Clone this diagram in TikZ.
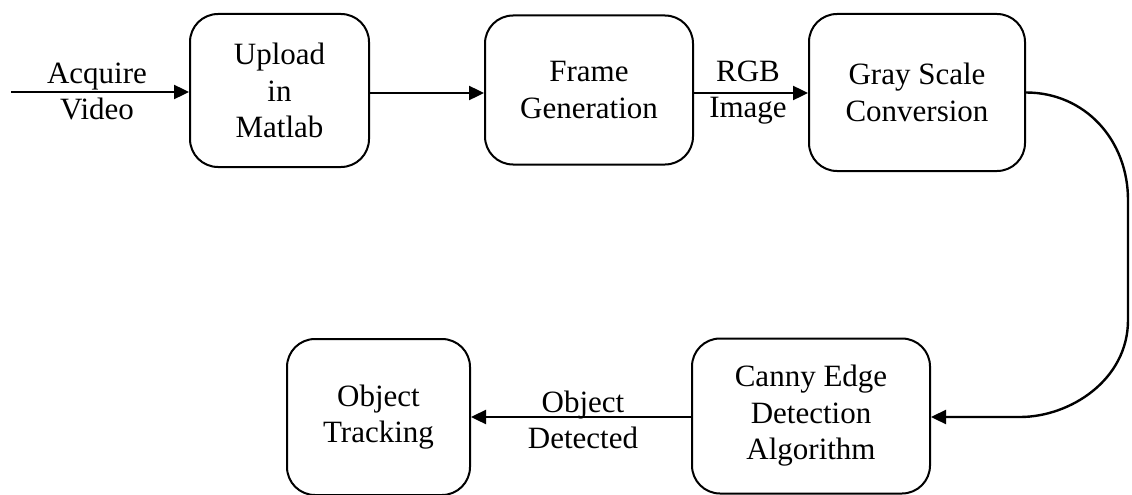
\documentclass[tikz,border=0pt]{standalone}
\usepackage{fontspec}
\setmainfont{Liberation Serif}
\usetikzlibrary{arrows.meta,calc}
\begin{document}
\begin{tikzpicture}[x=1pt,y=-1pt,
  box/.style={draw,line width=2pt,rounded corners=28pt,align=center,inner sep=0pt,
    font=\fontsize{31}{36.5}\selectfont},
  lbl/.style={align=center,inner sep=0pt,font=\fontsize{31}{36}\selectfont},
  arr/.style={line width=2.4pt,-{Triangle[length=15pt,width=14pt]}}]
\useasboundingbox (0,0) rectangle (1132,495);
\node[box,minimum width=179pt,minimum height=153pt] (upload) at (279.5,90.5) {Upload\\in\\Matlab};
\node[box,minimum width=208pt,minimum height=149pt] (frame) at (589,90) {Frame\\Generation};
\node[box,minimum width=216pt,minimum height=157pt] (gray) at (917,92.5) {Gray Scale\\Conversion};
\node[box,minimum width=238pt,minimum height=155pt] (canny) at (811,416) {Canny Edge\\Detection\\Algorithm};
\node[box,minimum width=183pt,minimum height=156pt] (track) at (378.5,417) {Object\\Tracking};
\coordinate (in) at (11,92);
\draw[arr] (in) -- (in -| upload.west);
\node[lbl] (acq) at (97,91) {Acquire\\Video};
\draw[arr] (upload.east |- 0,93) -- (frame.west |- 0,93);
\draw[arr] (frame.east |- 0,93) -- (gray.west |- 0,93);
\node[lbl] (rgb) at (748,93) {RGB\\Image};
\coordinate (c1) at (1128,200);
\coordinate (c2) at (1128,320);
\coordinate (c3) at (1020,417);
\draw[arr] (gray.east) .. controls (1085,92.5) and (1128,140) .. (c1) -- (c2)
  .. controls (1128,380) and (1070,417) .. (c3) -- (c3 -| canny.east);
\draw[arr] (canny.west |- 0,417) -- (track.east |- 0,417);
\node[lbl] (det) at (583,420) {Object\\Detected};
\end{tikzpicture}
\end{document}
